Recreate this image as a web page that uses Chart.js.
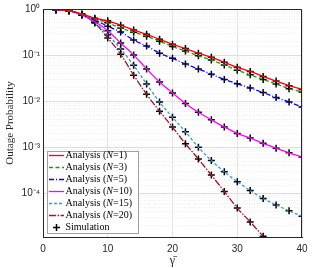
<!DOCTYPE html>
<html>
<head>
<meta charset="utf-8">
<script src="https://cdn.jsdelivr.net/npm/chart.js@4.4.0/dist/chart.umd.min.js"></script>
<style>
  html, body { margin: 0; padding: 0; background: #fff; }
  #wrap { width: 334px; height: 268px; }
</style>
</head>
<body>
<div id="wrap"><canvas id="chart" width="334" height="268"></canvas></div>
<script>
// SNR points (simulation markers every 2)
const gammaBar = [0, 2, 4, 6, 8, 10, 12, 14, 16, 18, 20, 22, 24, 26, 28, 30, 32, 34, 36, 38, 40];

// outage probability
const outN1 = [1, 0.966, 0.92, 0.78, 0.632, 0.553, 0.444, 0.352, 0.282, 0.22, 0.172, 0.139, 0.110, 0.0893, 0.0699, 0.0546, 0.0442, 0.0345, 0.0274, 0.0217, 0.018];
const outN3 = [1, 0.966, 0.92, 0.774, 0.611, 0.501, 0.388, 0.312, 0.257, 0.2, 0.154, 0.122, 0.097, 0.0778, 0.0611, 0.047, 0.0373, 0.0297, 0.0236, 0.0187, 0.0159];
const outN5 = [1, 0.966, 0.918, 0.762, 0.581, 0.422, 0.317, 0.212, 0.157, 0.11, 0.085, 0.0641, 0.0501, 0.0386, 0.0297, 0.0239, 0.0194, 0.0154, 0.012, 0.00958, 0.00749];
const outN10 = [1, 0.966, 0.916, 0.751, 0.535, 0.338, 0.183, 0.101, 0.0501, 0.026, 0.0151, 0.00893, 0.00573, 0.00394, 0.00276, 0.002, 0.00159, 0.00122, 0.000957, 0.000759, 0.000614];
const outN15 = [1, 0.966, 0.914, 0.744, 0.514, 0.277, 0.136, 0.0602, 0.0236, 0.00957, 0.00448, 0.00216, 0.001, 0.000516, 0.000293, 0.000179, 0.000115, 0.0000774, 0.0000562, 0.0000418, 0.0000318];
const outN20 = [1, 0.966, 0.914, 0.737, 0.494, 0.236, 0.104, 0.0367, 0.0141, 0.00608, 0.00274, 0.00119, 0.000556, 0.000249, 0.00011, 0.000048, 0.000024, 0.0000117];

const nLabels = ['1', '3', '5', '10', '15', '20'];
const xTicks = [0, 10, 20, 30, 40];

const series = [outN1, outN3, outN5, outN10, outN15, outN20];
const colors = ['#ff0000', '#1f9a1f', '#0000ff', '#ff00ff', '#3b97d3', '#a2142f'];
const dashes = [[], [4, 2.5], [5, 2, 1, 2], [], [3, 2], [7, 1.5, 1.5, 1.5]];

const toXY = arr => arr.map((v, i) => ({ x: gammaBar[i], y: v }));

const datasets = [];
series.forEach((s, k) => {
    datasets.push({
        data: toXY(s),
        borderColor: colors[k],
        borderWidth: 1.3,
        borderDash: dashes[k],
        pointRadius: 0,
        cubicInterpolationMode: 'monotone',
        fill: false
    });
});
series.forEach(s => {
    datasets.push({
        data: toXY(s),
        showLine: false,
        pointStyle: 'cross',
        pointRadius: 3.5,
        borderColor: '#000',
        borderWidth: 1.5,
        backgroundColor: '#000'
    });
});

const sup = { '0': '⁰', '1': '¹', '2': '²', '3': '³', '4': '⁴', '5': '⁵', '6': '⁶', '7': '⁷', '8': '⁸', '9': '⁹', '-': '⁻' };
const isDecade = v => Math.abs(Math.log10(v) - Math.round(Math.log10(v))) < 1e-6;

// box around plot + legend with italic N
const boxLegend = {
    id: 'boxLegend',
    afterDraw(chart) {
        const c = chart.ctx;
        const a = chart.chartArea;
        c.save();
        c.strokeStyle = '#262626';
        c.lineWidth = 1;
        c.beginPath();
        c.moveTo(a.left, a.top + 0.5);
        c.lineTo(a.right - 0.5, a.top + 0.5);
        c.lineTo(a.right - 0.5, a.bottom);
        c.stroke();

        const lx = 47.5, ly = 151.5, lw = 91, lh = 82;
        c.fillStyle = '#fff';
        c.fillRect(lx, ly, lw, lh);
        c.strokeStyle = '#a0a0a0';
        c.strokeRect(lx, ly, lw, lh);

        c.textBaseline = 'middle';
        nLabels.forEach((n, k) => {
            const y = 155.5 + k * 12;
            c.strokeStyle = colors[k];
            c.lineWidth = 1.3;
            c.setLineDash(dashes[k]);
            c.beginPath();
            c.moveTo(49, y);
            c.lineTo(64, y);
            c.stroke();
            c.setLineDash([]);
            c.fillStyle = '#000';
            let x = 65.5;
            c.font = '10px "Liberation Serif"';
            c.fillText('Analysis (', x, y);
            x += c.measureText('Analysis (').width;
            c.font = 'italic 10px "Liberation Serif"';
            c.fillText('N', x, y);
            x += c.measureText('N').width;
            c.font = '10px "Liberation Serif"';
            c.fillText('=' + n + ')', x, y);
        });
        const ys = 155.5 + 6 * 12;
        c.strokeStyle = '#000';
        c.lineWidth = 1.5;
        c.beginPath();
        c.moveTo(53, ys); c.lineTo(60, ys);
        c.moveTo(56.5, ys - 3.5); c.lineTo(56.5, ys + 3.5);
        c.stroke();
        c.font = '10px "Liberation Serif"';
        c.fillText('Simulation', 65.5, ys);
        c.restore();
    }
};

new Chart(document.getElementById('chart'), {
    type: 'line',
    data: { datasets },
    options: {
        responsive: false,
        animation: false,
        layout: { padding: { top: 6, right: 32, left: 0, bottom: 0 } },
        plugins: { legend: { display: false }, tooltip: { enabled: false } },
        scales: {
            x: {
                type: 'linear',
                min: 0,
                max: 40,
                afterFit: s => { s.height = 31; },
                afterBuildTicks: s => { s.ticks = xTicks.map(v => ({ value: v })); },
                ticks: { color: '#262626', font: { family: 'Liberation Sans', size: 10 }, padding: 6, maxRotation: 0 },
                grid: { color: '#e3e3e3', drawTicks: false },
                border: { color: '#262626' },
                title: { display: true, text: 'γ̄', color: '#262626', font: { family: 'Liberation Serif', size: 12 }, padding: 0 }
            },
            y: {
                type: 'logarithmic',
                min: 1.13e-5,
                max: 1,
                afterFit: s => { s.width = 43; },
                ticks: {
                    color: '#262626',
                    font: { family: 'Liberation Sans', size: 10 },
                    padding: 3,
                    autoSkip: false,
                    callback: v => isDecade(v) ? '10' + String(Math.round(Math.log10(v))).split('').map(ch => sup[ch]).join('') : ''
                },
                grid: {
                    drawTicks: false,
                    color: ctx => isDecade(ctx.tick.value) ? '#dedede' : '#ededed'
                },
                border: {
                    color: '#262626',
                    dash: ctx => (ctx.tick && isDecade(ctx.tick.value)) ? [] : [1, 1.5]
                },
                title: { display: true, text: 'Outage Probability', color: '#262626', font: { family: 'Liberation Serif', size: 11 }, padding: { top: 3.5, bottom: 0 } }
            }
        }
    },
    plugins: [boxLegend]
});
</script>
</body>
</html>
